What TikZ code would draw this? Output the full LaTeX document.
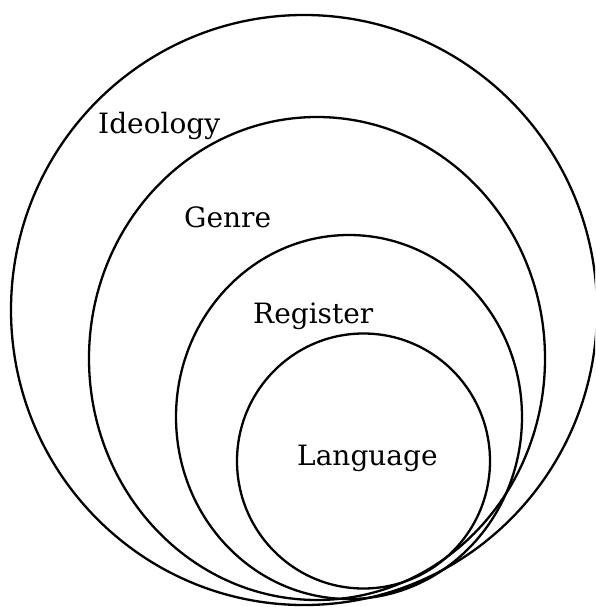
\documentclass[tikz,border=0pt]{standalone}
\usepackage{fontspec}
\setmainfont{DejaVu Serif}
\usetikzlibrary{shapes.geometric}

\tikzset{
  ring/.style={draw=black, line width=2.3pt, ellipse, inner sep=0pt, outer sep=0pt},
  label/.style={anchor=base west, inner sep=0pt, font=\fontsize{28}{32}\selectfont}
}

\begin{document}
\begin{tikzpicture}[x=1pt, y=-1pt]
  \useasboundingbox (0,0) rectangle (595,607);

  % nested levels, all meeting near the lower right
  \begin{scope}
    \clip (0,0) rectangle (595,607);
    \node[ring, minimum width=586pt, minimum height=590pt] (ideology) at (304,310) {};
  \end{scope}
  \node[ring, minimum width=456pt, minimum height=483pt] (genre)    at (317,358.5) {};
  \node[ring, minimum width=346pt, minimum height=364pt] (register) at (349,417) {};
  \node[ring, minimum width=253pt, minimum height=255pt] (language) at (363.5,461) {};

  % level names
  \node[label] (ideologytext) at (98,133) {Ideology};
  \node[label] (genretext)    at (184,227) {Genre};
  \node[label] (registertext) at (253,323) {Register};
  \node[label] (languagetext) at (297,465) {Language};
\end{tikzpicture}
\end{document}
